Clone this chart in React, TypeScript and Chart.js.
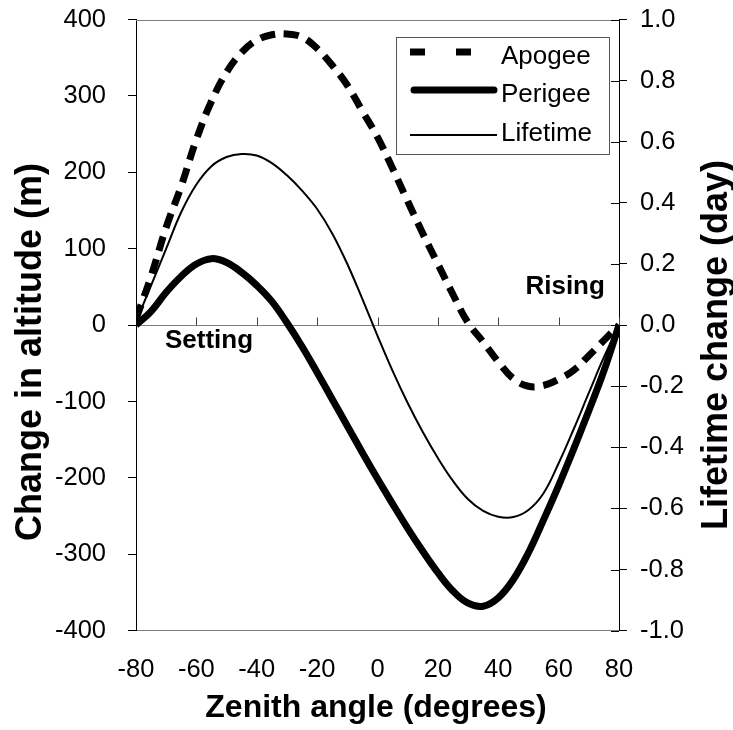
import React, { useEffect, useRef } from 'react';
import { Chart, registerables } from 'chart.js';

Chart.register(...registerables);

const zenithAngles = [-80, -75, -70, -65, -60, -55, -50, -45, -40, -35, -30, -25, -20, -15, -10, -5, 0, 5, 10, 15, 20, 25, 30, 35, 40, 45, 50, 55, 60, 65, 70, 75, 80];
const apogee = [8, 64, 128, 182, 243, 293, 331, 357, 373, 380, 381, 377, 362, 340, 314, 280, 246, 205, 162, 120, 80, 40, 3, -22, -48, -70, -80, -79, -71, -59, -40, -20, 0];
const perigee = [0, 18, 43, 64, 80, 87, 82, 69, 52, 31, 3, -28, -62, -97, -132, -167, -201, -234, -266, -296, -324, -348, -364, -368, -357, -333, -298, -255, -210, -162, -112, -60, 0];
const lifetime = [0.01, 0.13, 0.25, 0.37, 0.46, 0.52, 0.55, 0.56, 0.555, 0.53, 0.49, 0.44, 0.38, 0.3, 0.2, 0.085, -0.035, -0.15, -0.255, -0.35, -0.435, -0.51, -0.57, -0.608, -0.627, -0.628, -0.605, -0.55, -0.452, -0.34, -0.222, -0.105, 0];

const seriesNames = ['Apogee', 'Perigee', 'Lifetime'];
const xTitle = 'Zenith angle (degrees)';
const yTitle = 'Change in altitude (m)';
const y1Title = 'Lifetime change (day)';
const notes = [
  { text: 'Rising', x: 49, y: 41 },
  { text: 'Setting', x: -70.4, y: -30.5 },
];

const FONT = "'Liberation Sans', Arial, Helvetica, sans-serif";

const decor = {
  id: 'decor',
  beforeDatasetsDraw(chart: any) {
    const { ctx, chartArea: a, scales } = chart;
    const x = scales.x, y = scales.y, y1 = scales.y1;
    ctx.save();
    ctx.lineWidth = 1;
    ctx.strokeStyle = '#808080';
    ctx.beginPath();
    ctx.moveTo(a.left, Math.round(a.top) + 0.5);
    ctx.lineTo(a.right, Math.round(a.top) + 0.5);
    ctx.stroke();
    const y0 = Math.round(y.getPixelForValue(0)) + 0.5;
    ctx.strokeStyle = '#404040';
    ctx.beginPath();
    x.ticks.forEach((t: any) => {
      const px = Math.round(x.getPixelForValue(t.value)) + 0.5;
      ctx.moveTo(px, y0);
      ctx.lineTo(px, y0 - 8);
    });
    ctx.stroke();
    ctx.strokeStyle = '#000';
    ctx.beginPath();
    y1.ticks.forEach((t: any) => {
      const py = Math.round(y1.getPixelForValue(t.value)) + 0.5;
      ctx.moveTo(a.right - 8, py);
      ctx.lineTo(a.right, py);
    });
    ctx.stroke();
    ctx.restore();
  },
  afterDraw(chart: any) {
    const { ctx, scales } = chart;
    const x = scales.x, y = scales.y;
    ctx.save();
    ctx.fillStyle = '#000';
    ctx.font = `bold 26px ${FONT}`;
    ctx.textAlign = 'left';
    ctx.textBaseline = 'alphabetic';
    notes.forEach((n) => ctx.fillText(n.text, x.getPixelForValue(n.x), y.getPixelForValue(n.y)));
    // legend
    const lx = 396.5, ly = 37.5, lw = 213, lh = 117;
    ctx.fillStyle = '#fff';
    ctx.fillRect(lx, ly, lw, lh);
    ctx.strokeStyle = '#555';
    ctx.lineWidth = 1;
    ctx.strokeRect(lx, ly, lw, lh);
    const ds = chart.data.datasets;
    const rows = [52, 90, 135];
    const textY = [57, 95, 134];
    ds.forEach((d: any, i: number) => {
      ctx.save();
      ctx.strokeStyle = d.borderColor;
      ctx.lineWidth = d.borderWidth;
      ctx.lineCap = i === 1 ? 'round' : 'butt';
      ctx.setLineDash(i === 0 ? [15, 31] : []);
      ctx.beginPath();
      ctx.moveTo(i === 1 ? 414 : 410, rows[i]);
      ctx.lineTo(i === 1 ? 494 : 497, rows[i]);
      ctx.stroke();
      ctx.restore();
      ctx.fillStyle = '#000';
      ctx.font = `26px ${FONT}`;
      ctx.textBaseline = 'middle';
      ctx.textAlign = 'left';
      ctx.fillText(d.label, 501, textY[i]);
    });
    // axis titles
    ctx.fillStyle = '#000';
    ctx.textBaseline = 'alphabetic';
    ctx.textAlign = 'center';
    ctx.font = `bold 32px ${FONT}`;
    ctx.fillText(xTitle, 376, 717);
    ctx.font = `bold 36px ${FONT}`;
    ctx.save();
    ctx.translate(41, 352);
    ctx.rotate(-Math.PI / 2);
    ctx.fillText(yTitle, 0, 0);
    ctx.restore();
    ctx.save();
    ctx.translate(727, 345);
    ctx.rotate(-Math.PI / 2);
    ctx.fillText(y1Title, 0, 0);
    ctx.restore();
    ctx.restore();
  },
};

export default function App() {
  const ref = useRef<HTMLCanvasElement | null>(null);
  useEffect(() => {
    if (!ref.current) return;
    const mk = (arr: number[]) => zenithAngles.map((a, i) => ({ x: a, y: arr[i] }));
    const noPad = (s: any) => { s.paddingTop = 0; s.paddingBottom = 0; };
    const chart = new Chart(ref.current, {
      type: 'line',
      data: {
        datasets: [
          { label: seriesNames[0], data: mk(apogee), borderColor: '#000', borderWidth: 7, borderDash: [15, 9], pointRadius: 0, tension: 0.4, yAxisID: 'y', fill: false },
          { label: seriesNames[1], data: mk(perigee), borderColor: '#000', borderWidth: 7, pointRadius: 0, tension: 0.4, yAxisID: 'y', fill: false },
          { label: seriesNames[2], data: mk(lifetime), borderColor: '#000', borderWidth: 2, pointRadius: 0, tension: 0.4, yAxisID: 'y1', fill: false },
        ],
      },
      options: {
        responsive: false,
        animation: false,
        layout: { autoPadding: false, padding: { top: 19.5, left: 0, right: 0, bottom: 0 } },
        plugins: { legend: { display: false }, tooltip: { enabled: false } },
        scales: {
          x: {
            type: 'linear',
            min: -80,
            max: 80,
            ticks: { stepSize: 20, color: '#000', font: { family: FONT, size: 25.5 }, padding: 16, maxRotation: 0 },
            grid: { display: false },
            border: { display: true, color: '#808080', width: 1 },
            afterFit: (s: any) => { s.height = 99.3; s.paddingLeft = 0; s.paddingRight = 0; },
          },
          y: {
            position: 'left',
            min: -400,
            max: 400,
            ticks: { stepSize: 100, color: '#000', font: { family: FONT, size: 25.5 }, padding: 22 },
            grid: {
              color: (c: any) => (c.tick && c.tick.value === 0 ? '#808080' : 'rgba(0,0,0,0)'),
              tickColor: '#000',
              tickLength: 8,
              drawOnChartArea: true,
            },
            border: { display: true, color: '#000', width: 1 },
            afterFit: (s: any) => { s.width = 136; noPad(s); },
          },
          y1: {
            position: 'right',
            min: -1,
            max: 1,
            ticks: {
              stepSize: 0.2,
              color: '#000',
              font: { family: FONT, size: 25.5 },
              padding: 13,
              callback: (v: any) => (Math.abs(v) < 1e-9 ? '0.0' : Number(v).toFixed(1)),
            },
            grid: { drawOnChartArea: false, tickColor: '#000', tickLength: 8 },
            border: { display: true, color: '#000', width: 1 },
            afterFit: (s: any) => { s.width = 114; noPad(s); },
          },
        },
      },
      plugins: [decor],
    } as any);
    return () => chart.destroy();
  }, []);
  return (
    <div style={{ position: 'absolute', left: 0, top: 0, width: 733, height: 730, background: '#fff' }}>
      <canvas ref={ref} width={733} height={730} />
    </div>
  );
}
